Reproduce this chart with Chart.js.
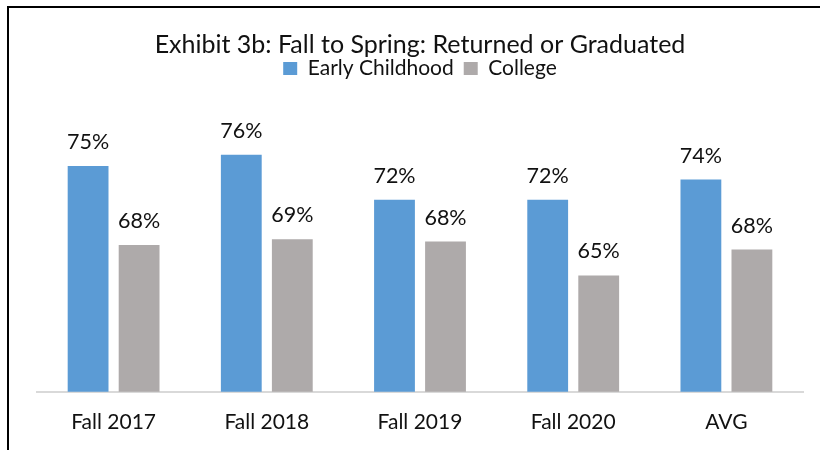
<!DOCTYPE html>
<html>
<head>
<meta charset="utf-8">
<script src="https://cdn.jsdelivr.net/npm/chart.js@4"></script>
<style>
  html, body { margin: 0; padding: 0; background: #fff; }
  #wrap { position: relative; width: 820px; height: 450px; }
  #frame {
    position: absolute; left: 7px; top: 6px; width: 813px; height: 444px;
    border-left: 2px solid #000; border-top: 2px solid #000; box-sizing: border-box;
  }
  canvas { position: absolute; left: 0; top: 0; }
</style>
</head>
<body>
<div id="wrap">
  <div id="frame"></div>
  <canvas id="graphicReturned" width="820" height="450"></canvas>
</div>
<script>
// datos del grafico
const categories = ["Fall 2017", "Fall 2018", "Fall 2019", "Fall 2020", "AVG"];
const earlyChildhood = [75.0, 76.0, 72.0, 72.0, 73.8];
const college = [68.0, 68.5, 68.3, 65.3, 67.6];

const fontFamily = "Lato, 'Open Sans', sans-serif";

// etiquetas encima de cada barra
const barLabels = {
  id: "barLabels",
  afterDatasetsDraw(chart) {
    const ctx = chart.ctx;
    ctx.save();
    ctx.font = "21.5px " + fontFamily;
    ctx.fillStyle = "#111";
    ctx.textAlign = "center";
    ctx.textBaseline = "alphabetic";
    chart.data.datasets.forEach((ds, i) => {
      chart.getDatasetMeta(i).data.forEach((bar, j) => {
        ctx.fillText(Math.round(ds.data[j]) + "%", bar.x, bar.y - 17);
      });
    });
    ctx.restore();
  },
};

// espacio debajo de la leyenda
const legendGap = {
  id: "legendGap",
  beforeInit(chart) {
    const fit = chart.legend.fit;
    chart.legend.fit = function () {
      fit.bind(this)();
      this.height += 20.5;
    };
  },
};

const chrt = document.getElementById("graphicReturned").getContext("2d");
new Chart(chrt, {
  type: "bar",
  data: {
    labels: categories,
    datasets: [
      {
        label: "Early Childhood",
        data: earlyChildhood,
        backgroundColor: "#5B9BD5",
      },
      {
        label: "College",
        data: college,
        backgroundColor: "#AEAAAA",
      },
    ],
  },
  options: {
    responsive: false,
    animation: false,
    categoryPercentage: 0.666,
    barPercentage: 0.8,
    layout: {
      padding: { left: 37, right: 17, top: 0, bottom: 5 },
    },
    scales: {
      x: {
        grid: { display: false },
        border: { display: true, color: "#D9D9D9", width: 2 },
        ticks: {
          color: "#111",
          padding: 10,
          font: { family: fontFamily, size: 21 },
        },
      },
      y: {
        display: false,
        min: 55,
        max: 80,
      },
    },
    plugins: {
      title: {
        display: true,
        text: "Exhibit 3b: Fall to Spring: Returned or Graduated",
        color: "#111",
        font: { family: fontFamily, size: 25, weight: "normal" },
        padding: { top: 30, bottom: -12 },
      },
      legend: {
        position: "top",
        labels: {
          color: "#111",
          boxWidth: 14,
          boxHeight: 13,
          padding: 10,
          font: { family: fontFamily, size: 21 },
        },
      },
      tooltip: { enabled: false },
    },
  },
  plugins: [barLabels, legendGap],
});
</script>
</body>
</html>
